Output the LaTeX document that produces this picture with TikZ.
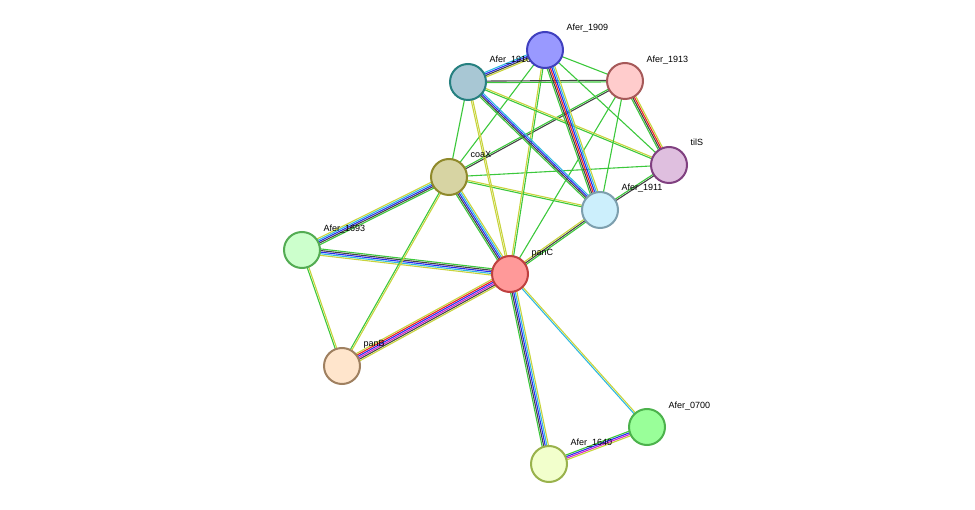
\documentclass[tikz,border=0pt]{standalone}
\usepackage{fontspec}
\setmainfont{Liberation Sans}
\usetikzlibrary{calc}
\definecolor{G}{HTML}{3CC83C}
\definecolor{Y}{HTML}{C8D43C}
\definecolor{K}{HTML}{444444}
\definecolor{B}{HTML}{2A2AF0}
\definecolor{C}{HTML}{30B8E0}
\definecolor{R}{HTML}{F02020}
\definecolor{M}{HTML}{D020D0}
\newcommand\myedge[3]{%
  \foreach \c [count=\i] in {#3} {\xdef\nn{\i}}%
  \foreach \c [count=\i] in {#3} {%
    \pgfmathsetmacro\off{(\i-(\nn+1)/2)*1.6}%
    \draw[\c,line width=1.1pt] ($(#1)!\off pt!90:(#2)$) -- ($(#2)!\off pt!-90:(#1)$);
  }}
\tikzset{
  prot/.style 2 args={circle,minimum size=36pt,inner sep=0pt,line width=2pt,fill=#1,draw=#2},
  lab/.style={anchor=base west,font=\fontsize{9}{10}\selectfont,text=black}
}
\begin{document}
\begin{tikzpicture}[x=1pt,y=-1pt]
\useasboundingbox (0,0) rectangle (975,510);
\coordinate (n1909) at (545,50);
\coordinate (n1913) at (625,81);
\coordinate (n1910) at (468,82);
\coordinate (tilS) at (669,165);
\coordinate (coaX) at (449,177);
\coordinate (n1911) at (600,210);
\coordinate (n1693) at (302,250);
\coordinate (panC) at (510,274);
\coordinate (panB) at (342,366);
\coordinate (n0700) at (647,427);
\coordinate (n1640) at (549,464);
\myedge{panC}{n1640}{G,K,B,C,Y}
\myedge{panC}{n0700}{C,Y}
\myedge{n0700}{n1640}{G,B,M,Y}
\myedge{panC}{panB}{Y,R,B,M,K,Y}
\myedge{panC}{n1693}{G,K,B,C,Y}
\myedge{n1693}{coaX}{G,K,B,C,Y}
\myedge{n1693}{panB}{G,Y}
\myedge{coaX}{panB}{G,Y}
\myedge{coaX}{panC}{G,K,B,C,Y}
\myedge{coaX}{n1911}{G,Y}
\myedge{coaX}{tilS}{G}
\myedge{coaX}{n1913}{K,G}
\myedge{coaX}{n1909}{G}
\myedge{coaX}{n1910}{G}
\myedge{panC}{n1911}{G,K,Y}
\myedge{panC}{n1910}{Y,Y}
\myedge{panC}{n1909}{G,Y}
\myedge{panC}{n1913}{G}
\myedge{n1910}{n1909}{Y,K,B,C}
\myedge{n1910}{n1913}{G,K}
\myedge{n1910}{n1911}{G,K,B,C}
\myedge{n1910}{tilS}{G,Y}
\myedge{n1909}{n1911}{G,K,R,B,C,Y}
\myedge{n1909}{n1913}{G}
\myedge{n1909}{tilS}{G}
\myedge{n1913}{tilS}{G,K,R,Y}
\myedge{n1913}{n1911}{G}
\myedge{tilS}{n1911}{G,K}
\node[prot={cyan!10!teal!40!white}{teal!70!gray}] (a1910) at (n1910) {};
\node[lab] at (486,63) {Afer\_1910};
\node[prot={blue!40!white}{blue!50!gray}] (a1909) at (n1909) {};
\node[lab] at (563,31) {Afer\_1909};
\node[prot={red!20!white}{red!30!gray}] (a1913) at (n1913) {};
\node[lab] at (643,63) {Afer\_1913};
\node[prot={violet!25!white}{violet!50!gray}] (atilS) at (tilS) {};
\node[lab] at (687,146) {tilS};
\node[prot={yellow!40!gray!60!white}{olive!70!gray}] (acoaX) at (coaX) {};
\node[lab] at (467,158) {coaX};
\node[prot={cyan!20!white}{cyan!30!gray}] (a1911) at (n1911) {};
\node[lab] at (618,191) {Afer\_1911};
\node[prot={green!20!white}{green!35!gray}] (a1693) at (n1693) {};
\node[lab] at (320,232) {Afer\_1693};
\node[prot={red!40!white}{red!50!gray}] (apanC) at (panC) {};
\node[lab] at (528,256) {panC};
\node[prot={orange!20!white}{brown!50!gray}] (apanB) at (panB) {};
\node[lab] at (360,347) {panB};
\node[prot={green!40!white}{green!40!gray}] (a0700) at (n0700) {};
\node[lab] at (665,409) {Afer\_0700};
\node[prot={lime!20!white}{lime!40!gray}] (a1640) at (n1640) {};
\node[lab] at (567,446) {Afer\_1640};
\end{tikzpicture}
\end{document}
